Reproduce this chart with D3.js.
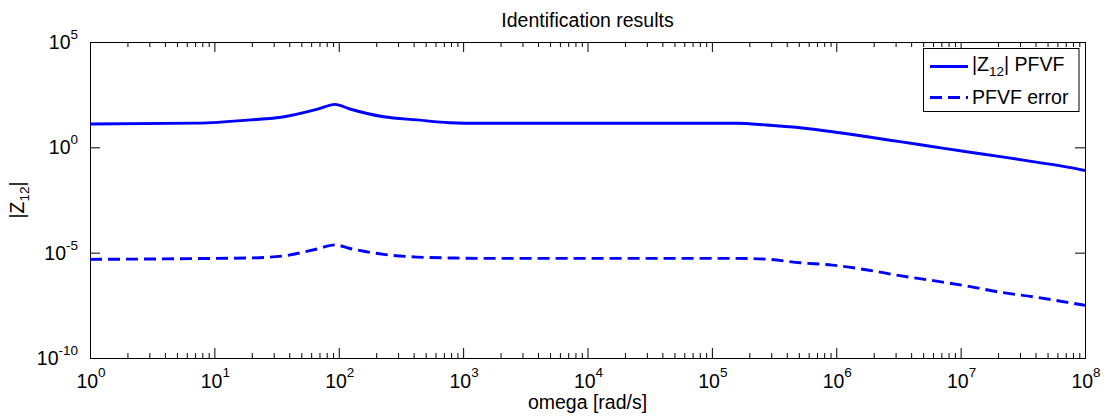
<!DOCTYPE html>
<html>
<head>
<meta charset="utf-8">
<script src="https://cdn.jsdelivr.net/npm/d3@7"></script>
<style>
  body { margin: 0; background: #fff; }
  text { font-family: "Liberation Sans", Arial, Helvetica, sans-serif; fill: #000; }
</style>
</head>
<body>
<svg id="chart" width="1106" height="416"></svg>
<script>
// Frequency grid [rad/s]
const omega = [1, 7.4, 19.5, 35.5, 67.6, 93.3, 123, 229, 427, 776, 1350, 1e4,
  1.58e5, 2.75e5, 5.13e5, 9.33e5, 1.78e6, 3.24e6, 6.03e6, 1.12e7, 2.09e7, 3.8e7, 7.24e7, 1e8];

// |Z12| from the PFVF fit
const magZ12 = [12.8, 14.1, 20.0, 27.5, 64.6, 110, 66.1, 28.2, 20.0, 14.8, 13.8, 13.8,
  13.8, 11.5, 8.51, 5.50, 3.16, 1.86, 1.07, 0.617, 0.363, 0.209, 0.115, 0.0794];

// Fit error
const errPFVF = [4.79e-6, 5.25e-6, 5.62e-6, 6.92e-6, 1.51e-5, 2.34e-5, 1.58e-5, 8.32e-6, 6.17e-6, 5.62e-6, 5.37e-6, 5.37e-6,
  5.37e-6, 4.90e-6, 3.31e-6, 2.57e-6, 1.51e-6, 8.13e-7, 4.68e-7, 2.63e-7, 1.32e-7, 8.13e-8, 4.37e-8, 3.16e-8];

// Axis decades (exponents of 10)
const xTickExps = [0, 1, 2, 3, 4, 5, 6, 7, 8];
const yTickExps = [-10, -5, 0, 5];

const titleText = "Identification results";
const xLabelText = "omega [rad/s]";

const svg = d3.select("#chart");
const plot = { left: 90, right: 1085, top: 42, bottom: 358 };

const x = d3.scaleLog().domain([1e0, 1e8]).range([plot.left, plot.right]);
const y = d3.scaleLog().domain([1e-10, 1e5]).range([plot.bottom, plot.top]);

const FS = 19.5, SUP = 13.5;
const blue = "#0000ff";

// white axes background
svg.append("rect").attr("x", plot.left).attr("y", plot.top)
  .attr("width", plot.right - plot.left).attr("height", plot.bottom - plot.top)
  .attr("fill", "#fff");

// tick positions
const xMajor = xTickExps.map(e => Math.pow(10, e));
const xMinor = [];
for (let e = xTickExps[0]; e < xTickExps[xTickExps.length - 1]; e++) {
  for (let k = 2; k <= 9; k++) xMinor.push(k * Math.pow(10, e));
}
const yMajor = yTickExps.map(e => Math.pow(10, e));

function styleAxis(g) {
  g.select(".domain").remove();
  g.selectAll(".tick line").attr("stroke", "#000").attr("stroke-width", 1);
  g.selectAll(".tick text").remove();
}

// inward ticks on all four sides
[[d3.axisBottom, plot.bottom], [d3.axisTop, plot.top]].forEach(([ax, yy]) => {
  svg.append("g").attr("transform", `translate(0,${yy})`)
    .call(ax(x).tickValues(xMajor).tickSize(-10).tickFormat(""))
    .call(styleAxis);
  svg.append("g").attr("transform", `translate(0,${yy})`)
    .call(ax(x).tickValues(xMinor).tickSize(-5).tickFormat(""))
    .call(styleAxis);
});
[[d3.axisLeft, plot.left], [d3.axisRight, plot.right]].forEach(([ax, xx]) => {
  svg.append("g").attr("transform", `translate(${xx},0)`)
    .call(ax(y).tickValues(yMajor).tickSize(-10).tickFormat(""))
    .call(styleAxis);
});

// box
svg.append("rect").attr("x", plot.left + 0.5).attr("y", plot.top + 0.5)
  .attr("width", plot.right - plot.left).attr("height", plot.bottom - plot.top)
  .attr("fill", "none").attr("stroke", "#000").attr("stroke-width", 1);

// power-of-ten labels
function powLabel(parent, px, py, exp, anchor, supDy) {
  const t = parent.append("text").attr("x", px).attr("y", py)
    .attr("text-anchor", anchor).style("font-size", FS + "px");
  t.append("tspan").text("10");
  t.append("tspan").attr("dy", supDy).style("font-size", SUP + "px").text(String(exp));
  return t;
}
xTickExps.forEach(e => powLabel(svg, x(Math.pow(10, e)) + 1, 388, e, "middle", -11));
yTickExps.forEach(e => powLabel(svg, plot.left - 12, y(Math.pow(10, e)) + 7, e, "end", -10));

// series
const pts = (vals) => omega.map((w, i) => [w, vals[i]]);
const line = d3.line().x(d => x(d[0])).y(d => y(d[1])).curve(d3.curveMonotoneX);

svg.append("path").datum(pts(magZ12)).attr("d", line)
  .attr("fill", "none").attr("stroke", blue).attr("stroke-width", 2.9)
  .attr("stroke-linejoin", "round");
svg.append("path").datum(pts(errPFVF)).attr("d", line)
  .attr("fill", "none").attr("stroke", blue).attr("stroke-width", 2.9)
  .attr("stroke-dasharray", "12,6");

// title and axis labels
svg.append("text").attr("x", (plot.left + plot.right) / 2).attr("y", 27)
  .attr("text-anchor", "middle").style("font-size", FS + "px").text(titleText);
svg.append("text").attr("x", (plot.left + plot.right) / 2).attr("y", 409)
  .attr("text-anchor", "middle").style("font-size", FS + "px").text(xLabelText);

const yl = svg.append("text").attr("transform", `translate(24,${(plot.top + plot.bottom) / 2}) rotate(-90)`)
  .attr("text-anchor", "middle").style("font-size", FS + "px");
yl.append("tspan").text("|Z");
yl.append("tspan").attr("dy", 5).style("font-size", SUP + "px").text("12");
yl.append("tspan").attr("dy", -5).text("|");

// legend
const lg = svg.append("g");
lg.append("rect").attr("x", 923.5).attr("y", 48.5).attr("width", 155.5).attr("height", 63)
  .attr("fill", "#fff").attr("stroke", "#000").attr("stroke-width", 1);
const rows = [
  { y: 66.5, base: 71, dash: null },
  { y: 97.5, base: 104, dash: "12,6" }
];
rows.forEach((r, i) => {
  lg.append("line").attr("x1", 930).attr("x2", 968).attr("y1", r.y).attr("y2", r.y)
    .attr("stroke", blue).attr("stroke-width", 2.9)
    .attr("stroke-dasharray", r.dash);
});
const t1 = lg.append("text").attr("x", 972).attr("y", rows[0].base).style("font-size", FS + "px");
t1.append("tspan").text("|Z");
t1.append("tspan").attr("dy", 5).style("font-size", SUP + "px").text("12");
t1.append("tspan").attr("dy", -5).text("| PFVF");
lg.append("text").attr("x", 972).attr("y", rows[1].base).style("font-size", FS + "px").text("PFVF error");
</script>
</body>
</html>
